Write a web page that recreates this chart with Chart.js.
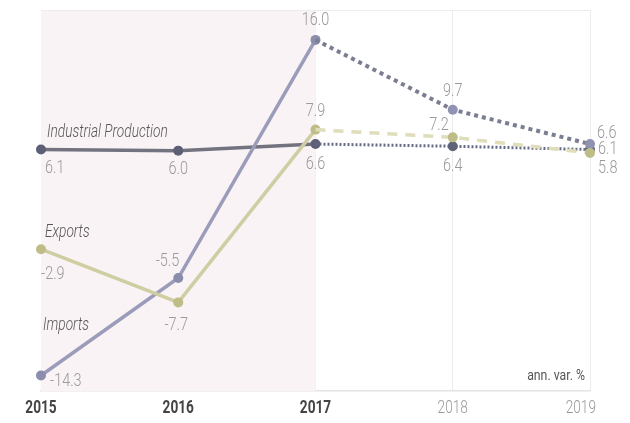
<!DOCTYPE html>
<html>
<head>
<meta charset="utf-8">
<script src="https://cdn.jsdelivr.net/npm/chart.js@4.4.1/dist/chart.umd.min.js"></script>
<style>
  html, body { margin: 0; background: #fff; }
  #wrap { width: 630px; height: 423px; }
</style>
</head>
<body>
<div id="wrap"><canvas id="c"></canvas></div>
<script>
// data
const years = ['2015', '2016', '2017', '2018', '2019']
const industrialProduction = [6.1, 6.0, 6.6, 6.4, 6.1]
const importsValues = [-14.3, -5.5, 16.0, 9.7, 6.6]
const exportsValues = [-2.9, -7.7, 7.9, 7.2, 5.8]
const lastActualIndex = 2 // 2017 is last actual year, after that forecasts

const FONT = "Roboto, 'DejaVu Sans', sans-serif"

// label offsets [dx, dy, align] for each point
const labelPlacement = {
  ip: [[4, 19, 'left'], [0, 19, 'center'], [0, 20, 'center'], [0, 20, 'center'], [8, 0, 'left']],
  imports: [[9, 6, 'left'], [1, -17, 'right'], [0, -20, 'center'], [0, -18, 'center'], [7, -11, 'left']],
  exports: [[0, 25, 'left'], [-2, 23, 'center'], [0, -18, 'center'], [-4, -12, 'right'], [8, 15, 'left']]
}

const actual = arr => arr.map((v, i) => i <= lastActualIndex ? v : null)
const forecast = arr => arr.map((v, i) => i >= lastActualIndex ? v : null)

// condensed text: squeeze horizontally since no condensed font is around
function narrowText(ctx, text, x, y, align, font, color, squeeze) {
  ctx.save()
  ctx.translate(x, y)
  ctx.scale(squeeze, 1)
  ctx.font = font
  ctx.fillStyle = color
  ctx.textAlign = align
  ctx.textBaseline = 'middle'
  ctx.fillText(text, 0, 0)
  ctx.restore()
}

// pink band behind the actual years + top rule
const backgroundPlugin = {
  id: 'bg',
  beforeDatasetsDraw(chart) {
    const { ctx, chartArea, scales } = chart
    const x0 = scales.x.getPixelForValue(0)
    const x1 = scales.x.getPixelForValue(lastActualIndex)
    ctx.save()
    ctx.fillStyle = '#faf3f5'
    ctx.fillRect(x0, chartArea.top, x1 - x0, chartArea.bottom - chartArea.top)
    ctx.strokeStyle = '#ececec'
    ctx.lineWidth = 1
    ctx.beginPath()
    ctx.moveTo(x0, chartArea.top + 0.5)
    ctx.lineTo(chartArea.right, chartArea.top + 0.5)
    ctx.stroke()
    ctx.restore()
  }
}

// value labels, series names, year labels, unit note
const labelsPlugin = {
  id: 'labels',
  afterDatasetsDraw(chart) {
    const { ctx, chartArea, scales } = chart
    const series = [
      { values: industrialProduction, place: labelPlacement.ip, name: 'Industrial Production', nameOff: [6, -17] },
      { values: importsValues, place: labelPlacement.imports, name: 'Imports', nameOff: [2, -50] },
      { values: exportsValues, place: labelPlacement.exports, name: 'Exports', nameOff: [4, -17] }
    ]
    series.forEach(s => {
      s.values.forEach((v, i) => {
        const [dx, dy, align] = s.place[i]
        narrowText(ctx, v.toFixed(1), scales.x.getPixelForValue(i) + dx, scales.y.getPixelForValue(v) + dy,
          align, `300 19px ${FONT}`, '#9a9a9a', 0.76)
      })
      narrowText(ctx, s.name, scales.x.getPixelForValue(0) + s.nameOff[0], scales.y.getPixelForValue(s.values[0]) + s.nameOff[1],
        'left', `italic 300 19px ${FONT}`, '#555', 0.72)
    })
    years.forEach((y, i) => {
      const bold = i <= lastActualIndex
      const last = i === years.length - 1
      narrowText(ctx, y, scales.x.getPixelForValue(i) + (last ? 6 : 0), chartArea.bottom + 17, last ? 'right' : 'center',
        `${bold ? 'bold' : '300'} 18px ${FONT}`, bold ? '#444' : '#9a9a9a', 0.76)
    })
    narrowText(ctx, 'ann. var. %', chartArea.right - 5, chartArea.bottom - 15, 'right', `15px ${FONT}`, '#555', 0.82)
  }
}

const solid = (label, data, color, pointColor) => ({
  label, data,
  borderColor: color, borderWidth: 3.5,
  pointRadius: 5, pointHoverRadius: 5,
  pointBackgroundColor: pointColor, pointBorderWidth: 0,
  tension: 0
})

const dotted = (label, data, color, pointColor, dash, width) => ({
  label, data,
  borderColor: color, borderWidth: width, borderDash: dash,
  pointRadius: ctx => ctx.dataIndex > lastActualIndex ? 5 : 0,
  pointBackgroundColor: pointColor, pointBorderWidth: 0,
  tension: 0
})

new Chart(document.getElementById('c'), {
  type: 'line',
  data: {
    labels: years,
    datasets: [
      dotted('Exports f', forecast(exportsValues), '#dfddba', '#bfbd87', [10, 8], 3.5),
      dotted('Imports f', forecast(importsValues), '#7b7e92', '#8f92b0', [4, 4], 4),
      dotted('IP f', forecast(industrialProduction), '#666b86', '#5f6379', [2, 2], 3),
      solid('Exports', actual(exportsValues), '#cfcda2', '#bfbd87'),
      solid('Imports', actual(importsValues), '#9a9cb9', '#8a8dab'),
      solid('Industrial Production', actual(industrialProduction), '#737380', '#5c5f76')
    ]
  },
  options: {
    responsive: true,
    maintainAspectRatio: false,
    animation: false,
    layout: { padding: { left: 41, right: 40, top: 10, bottom: 32 } },
    plugins: {
      legend: { display: false },
      tooltip: { enabled: false }
    },
    scales: {
      y: {
        display: false,
        min: -15.7,
        max: 18.7
      },
      x: {
        offset: false,
        grid: {
          color: c => c.index >= lastActualIndex ? '#ececec' : 'rgba(0,0,0,0)',
          drawTicks: false
        },
        border: { color: '#e4e4e4', width: 1.5 },
        ticks: { display: false }
      }
    }
  },
  plugins: [backgroundPlugin, labelsPlugin]
})
</script>
</body>
</html>
